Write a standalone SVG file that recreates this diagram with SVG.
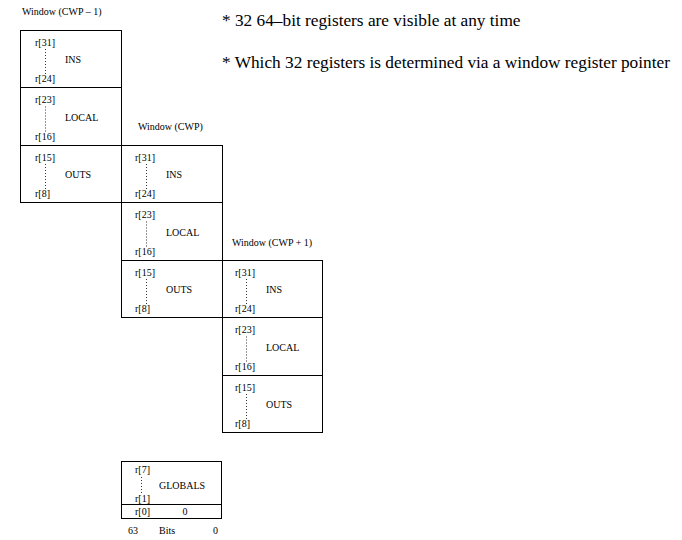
<svg xmlns="http://www.w3.org/2000/svg" width="682" height="540" viewBox="0 0 682 540">
<style>
text{font-family:"Liberation Serif","Times New Roman",serif;fill:#000}
.s{font-size:10px}
.t{font-size:17.3px}
.box{fill:none;stroke:#000;stroke-width:1}
.sep{stroke:#000;stroke-width:1}
.dot{stroke:#333;stroke-width:1;stroke-dasharray:1 2}
</style>
<rect width="682" height="540" fill="#fff"/>
<g id="notes">
<text class="t" x="222" y="26">*  32 64–bit registers are visible at any time</text>
<text class="t" x="222" y="68">* Which 32 registers is determined via a window register pointer</text>
</g>
<g id="window-cwp-minus-1">
<text class="s" x="22" y="15">Window (CWP – 1)</text>
<rect class="box" x="20.5" y="30.5" width="101" height="172"/>
<line class="sep" x1="20.5" y1="87.5" x2="121.5" y2="87.5"/>
<line class="sep" x1="20.5" y1="145.5" x2="121.5" y2="145.5"/>
<text class="s" x="35" y="45.5">r[31]</text><line class="dot" x1="45.5" y1="49" x2="45.5" y2="75"/><text class="s" x="65" y="63">INS</text><text class="s" x="35" y="82">r[24]</text>
<text class="s" x="35" y="103">r[23]</text><line class="dot" x1="45.5" y1="106.5" x2="45.5" y2="132.5"/><text class="s" x="65" y="120.5">LOCAL</text><text class="s" x="35" y="139.5">r[16]</text>
<text class="s" x="35" y="160.5">r[15]</text><line class="dot" x1="45.5" y1="164" x2="45.5" y2="190"/><text class="s" x="65" y="178">OUTS</text><text class="s" x="35" y="197">r[8]</text>
</g>
<g id="window-cwp">
<text class="s" x="138" y="130">Window (CWP)</text>
<rect class="box" x="121.5" y="145.5" width="101" height="172"/>
<line class="sep" x1="121.5" y1="202.5" x2="222.5" y2="202.5"/>
<line class="sep" x1="121.5" y1="260.5" x2="222.5" y2="260.5"/>
<text class="s" x="135" y="160.5">r[31]</text><line class="dot" x1="146.5" y1="164" x2="146.5" y2="190"/><text class="s" x="166" y="178">INS</text><text class="s" x="135" y="197">r[24]</text>
<text class="s" x="135" y="218">r[23]</text><line class="dot" x1="146.5" y1="221.5" x2="146.5" y2="247.5"/><text class="s" x="166" y="235.5">LOCAL</text><text class="s" x="135" y="254.5">r[16]</text>
<text class="s" x="135" y="275.5">r[15]</text><line class="dot" x1="146.5" y1="279" x2="146.5" y2="305"/><text class="s" x="166" y="293">OUTS</text><text class="s" x="135" y="312">r[8]</text>
</g>
<g id="window-cwp-plus-1">
<text class="s" x="232" y="246">Window (CWP + 1)</text>
<rect class="box" x="222.5" y="260.5" width="100" height="172"/>
<line class="sep" x1="222.5" y1="317.5" x2="322.5" y2="317.5"/>
<line class="sep" x1="222.5" y1="375.5" x2="322.5" y2="375.5"/>
<text class="s" x="235" y="275.5">r[31]</text><line class="dot" x1="246.5" y1="279" x2="246.5" y2="305"/><text class="s" x="266" y="293">INS</text><text class="s" x="235" y="312">r[24]</text>
<text class="s" x="235" y="333">r[23]</text><line class="dot" x1="246.5" y1="336.5" x2="246.5" y2="362.5"/><text class="s" x="266" y="350.5">LOCAL</text><text class="s" x="235" y="369.5">r[16]</text>
<text class="s" x="235" y="390.5">r[15]</text><line class="dot" x1="246.5" y1="394" x2="246.5" y2="420"/><text class="s" x="266" y="408">OUTS</text><text class="s" x="235" y="427">r[8]</text>
</g>
<g id="globals">
<rect class="box" x="121.5" y="461.5" width="100" height="57"/>
<line class="sep" x1="121.5" y1="504.5" x2="221.5" y2="504.5"/>
<text class="s" x="135" y="473">r[7]</text><line class="dot" x1="141.5" y1="477" x2="141.5" y2="494"/><text class="s" x="159" y="489">GLOBALS</text><text class="s" x="135" y="502">r[1]</text>
<text class="s" x="135" y="515">r[0]</text><text class="s" x="182.5" y="515">0</text>
<text class="s" x="128" y="534">63</text><text class="s" x="159" y="534">Bits</text><text class="s" x="213" y="534">0</text>
</g>
<g id="connectors"/>
</svg>
